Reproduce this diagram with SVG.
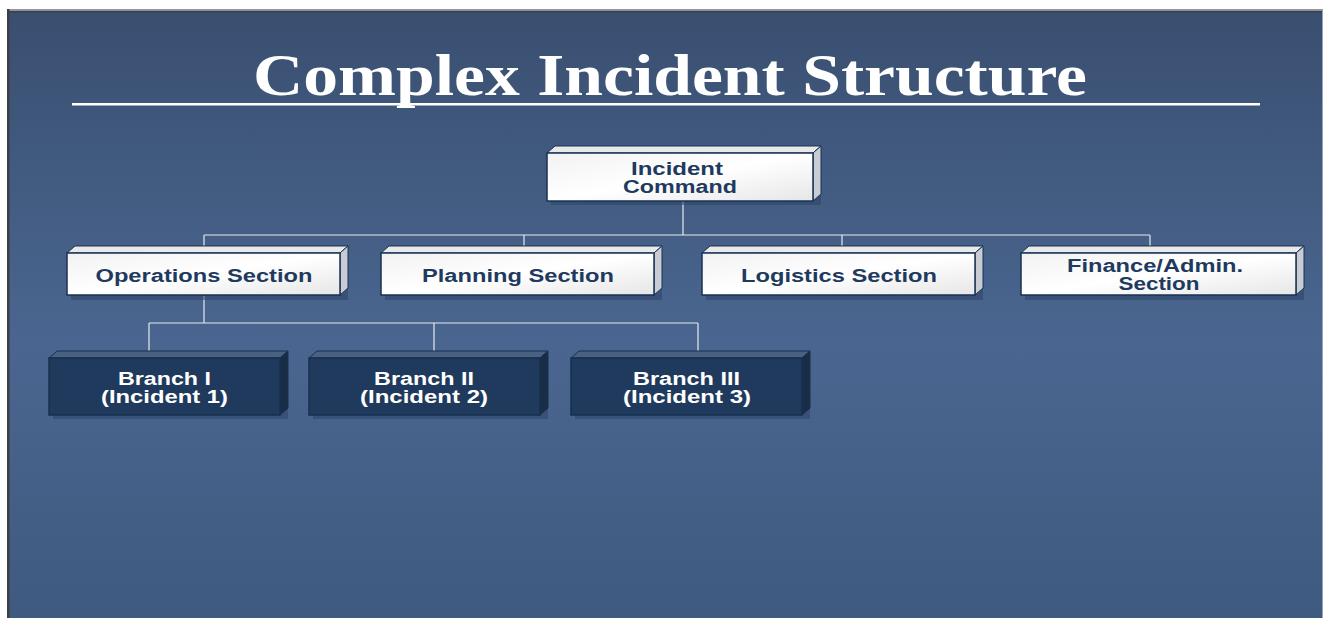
<svg xmlns="http://www.w3.org/2000/svg" width="1325" height="618" viewBox="0 0 1325 618">
  <defs>
    <linearGradient id="bg" x1="0" y1="0" x2="0" y2="1">
      <stop offset="0" stop-color="#394f70"/>
      <stop offset="0.55" stop-color="#4a6690"/>
      <stop offset="1" stop-color="#3f5a7f"/>
    </linearGradient>
    <linearGradient id="face" x1="0" y1="0" x2="1" y2="1">
      <stop offset="0" stop-color="#f2f2f2"/>
      <stop offset="0.5" stop-color="#ffffff"/>
      <stop offset="1" stop-color="#e6e6e6"/>
    </linearGradient>
    <style>
      .title { font-family: "Liberation Serif", "Times New Roman", serif; font-weight: bold; fill: #ffffff; }
      .lbl { font-family: "Liberation Sans", Arial, sans-serif; font-weight: bold; font-size: 18px; text-anchor: middle; }
      .dark { fill: #1f3a5f; }
      .light { fill: #ffffff; }
      .front { fill: url(#face); stroke: #173256; stroke-width: 1.5; }
      .top { fill: #e9e9e9; stroke: #173256; stroke-width: 1; }
      .side { fill: #c9ccd2; stroke: #173256; stroke-width: 1; }
      .bfront { fill: #1f3a5c; stroke: #16304f; stroke-width: 1.5; }
      .btop { fill: #4b6182; stroke: #16304f; stroke-width: 1; }
      .bside { fill: #1a2d47; stroke: #16304f; stroke-width: 1; }
      .shadow { fill: #2d4466; opacity: 0.55; }
      .wire { stroke: #e6e9ee; stroke-width: 1.2; fill: none; }
    </style>
  </defs>

  <!-- background panel -->
  <rect x="0" y="0" width="1325" height="618" fill="#ffffff"/>
  <rect x="7" y="9" width="1316" height="609" fill="url(#bg)"/>
  <rect x="7" y="9" width="1316" height="2" fill="#8f959c"/>
  <rect x="7" y="11" width="1316" height="1.5" fill="#3c3f44"/>
  <rect x="7" y="9" width="2.5" height="609" fill="#3c3f44"/>
  <rect x="1322" y="9" width="1" height="609" fill="#9aa6b8"/>

  <!-- title -->
  <text class="title" x="670" y="95" font-size="60" text-anchor="middle" textLength="834" lengthAdjust="spacingAndGlyphs">Complex Incident Structure</text>
  <rect x="72" y="103" width="1188" height="2.5" fill="#ffffff"/>

  <!-- connectors -->
  <g id="connectors">
    <path class="wire" d="M683 201 V235 M204 235 H1150 M204 235 V252 M524 235 V252 M842 235 V252 M1150 235 V252"/>
    <path class="wire" d="M204 296 V323 M149 323 H698 M149 323 V352 M434 323 V352 M698 323 V352"/>
  </g>

  <!-- Incident Command -->
  <g id="incident-command">
    <rect class="shadow" x="551" y="157" width="270" height="48"/>
    <polygon class="top" points="547,153 555,146 821,146 813,153"/>
    <polygon class="side" points="813,153 821,146 821,194 813,201"/>
    <rect class="front" x="547" y="153" width="266" height="48"/>
    <text class="lbl dark" x="677" y="175" textLength="92" lengthAdjust="spacingAndGlyphs">Incident</text>
    <text class="lbl dark" x="680" y="193" textLength="114" lengthAdjust="spacingAndGlyphs">Command</text>
  </g>

  <!-- Sections -->
  <g id="operations-section">
    <rect class="shadow" x="71" y="257" width="277" height="43"/>
    <polygon class="top" points="67,253 75,246 348,246 340,253"/>
    <polygon class="side" points="340,253 348,246 348,288 340,295"/>
    <rect class="front" x="67" y="253" width="273" height="42"/>
    <text class="lbl dark" x="204" y="282" textLength="217" lengthAdjust="spacingAndGlyphs">Operations Section</text>
  </g>

  <g id="planning-section">
    <rect class="shadow" x="385" y="257" width="277" height="43"/>
    <polygon class="top" points="381,253 389,246 662,246 654,253"/>
    <polygon class="side" points="654,253 662,246 662,288 654,295"/>
    <rect class="front" x="381" y="253" width="273" height="42"/>
    <text class="lbl dark" x="518" y="282" textLength="192" lengthAdjust="spacingAndGlyphs">Planning Section</text>
  </g>

  <g id="logistics-section">
    <rect class="shadow" x="706" y="257" width="277" height="43"/>
    <polygon class="top" points="702,253 710,246 983,246 975,253"/>
    <polygon class="side" points="975,253 983,246 983,288 975,295"/>
    <rect class="front" x="702" y="253" width="273" height="42"/>
    <text class="lbl dark" x="839" y="282" textLength="196" lengthAdjust="spacingAndGlyphs">Logistics Section</text>
  </g>

  <g id="finance-section">
    <rect class="shadow" x="1025" y="257" width="279" height="43"/>
    <polygon class="top" points="1021,253 1029,246 1304,246 1296,253"/>
    <polygon class="side" points="1296,253 1304,246 1304,288 1296,295"/>
    <rect class="front" x="1021" y="253" width="275" height="42"/>
    <text class="lbl dark" x="1155" y="272" textLength="176" lengthAdjust="spacingAndGlyphs">Finance/Admin.</text>
    <text class="lbl dark" x="1159" y="290" textLength="81" lengthAdjust="spacingAndGlyphs">Section</text>
  </g>

  <!-- Branches -->
  <g id="branch-1">
    <rect class="shadow" x="53" y="362" width="235" height="57"/>
    <polygon class="btop" points="49,358 57,351 288,351 280,358"/>
    <polygon class="bside" points="280,358 288,351 288,408 280,415"/>
    <rect class="bfront" x="49" y="358" width="231" height="57"/>
    <text class="lbl light" x="164.5" y="385" textLength="93" lengthAdjust="spacingAndGlyphs">Branch I</text>
    <text class="lbl light" x="164.5" y="403" textLength="127" lengthAdjust="spacingAndGlyphs">(Incident 1)</text>
  </g>

  <g id="branch-2">
    <rect class="shadow" x="313" y="362" width="235" height="57"/>
    <polygon class="btop" points="309,358 317,351 548,351 540,358"/>
    <polygon class="bside" points="540,358 548,351 548,408 540,415"/>
    <rect class="bfront" x="309" y="358" width="231" height="57"/>
    <text class="lbl light" x="424" y="385" textLength="100" lengthAdjust="spacingAndGlyphs">Branch II</text>
    <text class="lbl light" x="424" y="403" textLength="128" lengthAdjust="spacingAndGlyphs">(Incident 2)</text>
  </g>

  <g id="branch-3">
    <rect class="shadow" x="575" y="362" width="235" height="57"/>
    <polygon class="btop" points="571,358 579,351 810,351 802,358"/>
    <polygon class="bside" points="802,358 810,351 810,408 802,415"/>
    <rect class="bfront" x="571" y="358" width="231" height="57"/>
    <text class="lbl light" x="686.5" y="385" textLength="107" lengthAdjust="spacingAndGlyphs">Branch III</text>
    <text class="lbl light" x="687" y="403" textLength="128" lengthAdjust="spacingAndGlyphs">(Incident 3)</text>
  </g>
</svg>
